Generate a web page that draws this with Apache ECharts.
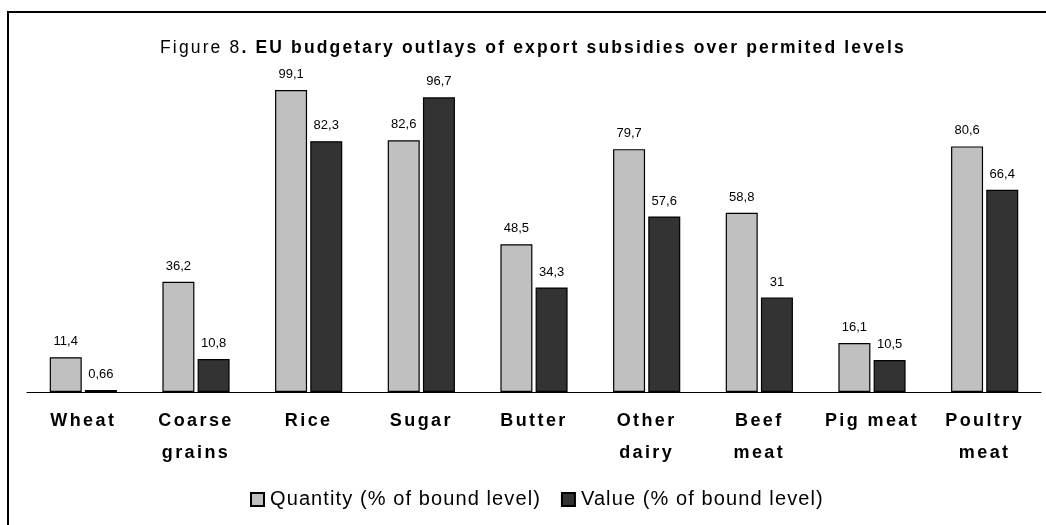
<!DOCTYPE html>
<html><head><meta charset="utf-8">
<script src="https://cdn.jsdelivr.net/npm/echarts@6/dist/echarts.min.js"></script>
<style>html,body{margin:0;padding:0;background:#fff}#c{width:1046px;height:525px}</style>
</head><body><div id="c"></div>
<script>
const categories = ['Wheat', 'Coarse\ngrains', 'Rice', 'Sugar', 'Butter', 'Other\ndairy', 'Beef\nmeat', 'Pig meat', 'Poultry\nmeat'];
const quantity = [11.4, 36.2, 99.1, 82.6, 48.5, 79.7, 58.8, 16.1, 80.6];
const value = [0.66, 10.8, 82.3, 96.7, 34.3, 57.6, 31, 10.5, 66.4];
const seriesNames = ['Quantity (% of bound level)', 'Value (% of bound level)'];

// Letter spacing used by the original typography, keyed by font size
function spacingFor(font) {
  const m = /([\d.]+)px/.exec(font || '');
  const s = m ? parseFloat(m[1]) : 12;
  if (s === 18) return '2.4px';
  if (s === 17.5) return '2.15px';
  if (s === 20) return '1.1px';
  return '0px';
}
const mctx = document.createElement('canvas').getContext('2d');
if (echarts.setPlatformAPI) {
  echarts.setPlatformAPI({
    measureText(text, font) {
      mctx.font = font;
      mctx.letterSpacing = spacingFor(font);
      return mctx.measureText(text);
    }
  });
}
const origFill = CanvasRenderingContext2D.prototype.fillText;
CanvasRenderingContext2D.prototype.fillText = function (t, x, y, w) {
  this.letterSpacing = spacingFor(this.font);
  return w === undefined ? origFill.call(this, t, x, y) : origFill.call(this, t, x, y, w);
};

const chart = echarts.init(document.getElementById('c'));
const fmt = p => String(p.value).replace('.', ',');
const lbl = {show: true, position: 'top', distance: 9, fontFamily: 'Liberation Sans', fontSize: 13, color: '#000', formatter: fmt};
chart.setOption({
  animation: false,
  title: {
    text: '{a|Figure 8}{b|. EU budgetary outlays of export subsidies over permited levels}',
    left: 155, top: 33,
    textStyle: {rich: {
      a: {fontFamily: 'Liberation Sans', fontSize: 17.5, fontWeight: 'normal', color: '#000'},
      b: {fontFamily: 'Liberation Sans', fontSize: 17.5, fontWeight: 'bold', color: '#000'}
    }}
  },
  graphic: [{type: 'rect', shape: {x: 8, y: 12, width: 1100, height: 600}, style: {fill: 'none', stroke: '#000', lineWidth: 2}, silent: true}],
  legend: {
    bottom: 10, left: 245, itemWidth: 13, itemHeight: 13, itemGap: 20,
    textStyle: {fontFamily: 'Liberation Sans', fontSize: 20, color: '#000', padding: [0, 0, 0, 1]},
    data: seriesNames.map(n => ({name: n, icon: 'rect'}))
  },
  grid: {left: 27, right: 5, top: 87.3, height: 304.7},
  xAxis: {
    type: 'category', data: categories,
    axisLine: {lineStyle: {color: '#000', width: 1}},
    axisTick: {show: false},
    axisLabel: {fontFamily: 'Liberation Sans', fontSize: 18, fontWeight: 'bold', color: '#000', lineHeight: 32, margin: 13, interval: 0}
  },
  yAxis: {type: 'value', min: 0, max: 100, show: false, splitLine: {show: false}},
  series: [
    {name: seriesNames[0], type: 'bar', data: quantity, barWidth: 32, barGap: '10%',
     itemStyle: {color: '#c0c0c0', borderColor: '#000', borderWidth: 1.2}, label: lbl},
    {name: seriesNames[1], type: 'bar', data: value, barWidth: 32, barGap: '10%',
     itemStyle: {color: '#333333', borderColor: '#000', borderWidth: 1.2}, label: lbl}
  ]
});
</script></body></html>
